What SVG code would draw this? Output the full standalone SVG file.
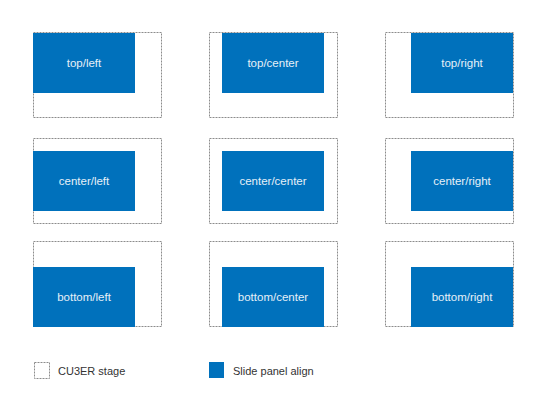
<svg xmlns="http://www.w3.org/2000/svg" width="544" height="409" viewBox="0 0 544 409">
<style>
.stage{fill:none;stroke:#8c8c8c;stroke-width:1;stroke-dasharray:2,1}
.panel{fill:#0071bc}
.lbl{font-family:"Liberation Sans",Arial,sans-serif;font-size:11.5px;fill:#e6f0f8;text-anchor:middle}
.leg{font-family:"Liberation Sans",Arial,sans-serif;font-size:11px;fill:#333}
</style>
<rect width="544" height="409" fill="#fff"/>
<g id="top-left"><rect class="stage" x="33.5" y="32.5" width="128" height="85"/><rect class="panel" x="33" y="33" width="102" height="60"/><text class="lbl" x="84" y="67">top/left</text></g>
<g id="top-center"><rect class="stage" x="209.5" y="32.5" width="128" height="85"/><rect class="panel" x="222" y="33" width="102" height="60"/><text class="lbl" x="273" y="67">top/center</text></g>
<g id="top-right"><rect class="stage" x="385.5" y="32.5" width="128" height="85"/><rect class="panel" x="411" y="33" width="102" height="60"/><text class="lbl" x="462" y="67">top/right</text></g>
<g id="center-left"><rect class="stage" x="33.5" y="138.5" width="128" height="85"/><rect class="panel" x="33" y="151" width="102" height="60"/><text class="lbl" x="84" y="185">center/left</text></g>
<g id="center-center"><rect class="stage" x="209.5" y="138.5" width="128" height="85"/><rect class="panel" x="222" y="151" width="102" height="60"/><text class="lbl" x="273" y="185">center/center</text></g>
<g id="center-right"><rect class="stage" x="385.5" y="138.5" width="128" height="85"/><rect class="panel" x="411" y="151" width="102" height="60"/><text class="lbl" x="462" y="185">center/right</text></g>
<g id="bottom-left"><rect class="stage" x="33.5" y="241.5" width="128" height="85"/><rect class="panel" x="33" y="267" width="102" height="60"/><text class="lbl" x="84" y="301">bottom/left</text></g>
<g id="bottom-center"><rect class="stage" x="209.5" y="241.5" width="128" height="85"/><rect class="panel" x="222" y="267" width="102" height="60"/><text class="lbl" x="273" y="301">bottom/center</text></g>
<g id="bottom-right"><rect class="stage" x="385.5" y="241.5" width="128" height="85"/><rect class="panel" x="411" y="267" width="102" height="60"/><text class="lbl" x="462" y="301">bottom/right</text></g>
<g id="legend">
<rect class="stage" x="34.5" y="362.5" width="15" height="16"/>
<text class="leg" x="58" y="375">CU3ER stage</text>
<rect class="panel" x="209" y="362" width="15" height="16"/>
<text class="leg" x="233" y="375">Slide panel align</text>
</g>
<g id="connectors"/>
</svg>
